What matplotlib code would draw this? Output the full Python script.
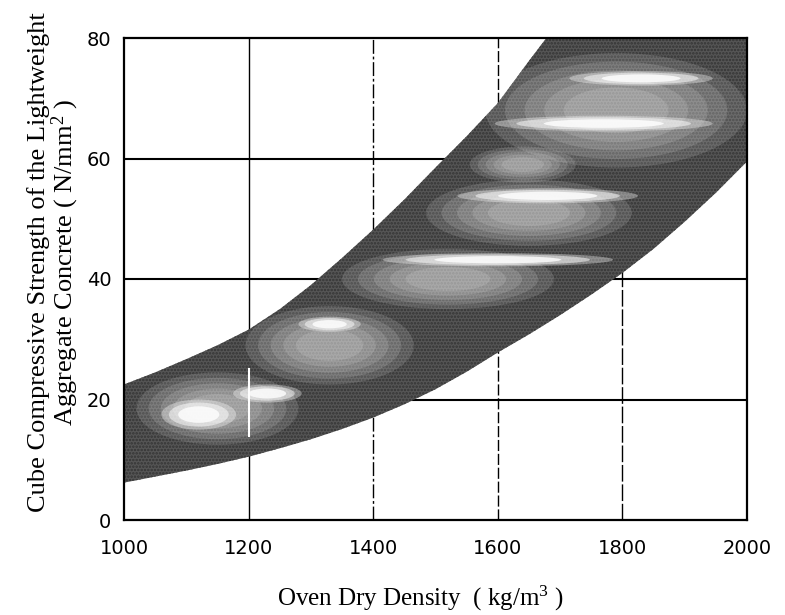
import matplotlib
matplotlib.use("Agg")
import matplotlib.pyplot as plt
from matplotlib.patches import Ellipse, Polygon

# Band limits (density kg/m3 -> strength N/mm2)
density = [1000, 1050, 1100, 1150, 1200, 1250, 1300, 1350, 1400, 1450, 1500,
           1550, 1600, 1650, 1700, 1750, 1800, 1850, 1900, 1950, 2000]
upper = [22.5, 24.5, 26.7, 29.0, 31.6, 35.0, 39.0, 43.5, 48.2, 53.2, 58.5,
         63.7, 69.2, 76.2, 83.0, 90.0, 97.0, 104.0, 111.0, 118.0, 125.0]
lower = [6.2, 7.2, 8.2, 9.3, 10.5, 11.9, 13.4, 15.1, 17.0, 19.2, 21.7,
         24.6, 27.8, 30.8, 34.0, 37.4, 41.0, 45.0, 49.5, 54.3, 59.5]

# Diffuse clouds of test results inside the band
cloud_x = [1150, 1330, 1520, 1650, 1640, 1790]
cloud_y = [18.5, 29.0, 40.0, 51.0, 59.0, 68.0]
cloud_w = [260, 270, 340, 330, 170, 420]
cloud_h = [12.0, 13.0, 10.0, 11.0, 6.0, 19.0]

# Dense streaks of results
streak_x = [1120, 1230, 1330, 1600, 1680, 1770, 1830]
streak_y = [17.5, 21.0, 32.5, 43.2, 53.8, 65.8, 73.3]
streak_w = [120, 110, 100, 370, 290, 350, 230]
streak_h = [5.0, 3.0, 2.5, 2.2, 2.5, 2.6, 2.4]

x_ticks = [1000, 1200, 1400, 1600, 1800, 2000]
y_ticks = [0, 20, 40, 60, 80]

plt.rcParams['hatch.linewidth'] = 1.2
plt.rcParams['mathtext.fontset'] = 'custom'
plt.rcParams['mathtext.rm'] = 'Liberation Serif'
plt.rcParams['mathtext.it'] = 'Liberation Serif:italic'
plt.rcParams['mathtext.bf'] = 'Liberation Serif:bold'

fig = plt.figure(figsize=(7.85, 6.15), dpi=100)
ax = fig.add_axes([124/785, 1-520/615, 623/785, 482/615])
ax.set_xlim(1000, 2000)
ax.set_ylim(0, 80)

# grid
for v in [20, 40, 60]:
    ax.axhline(v, color='black', lw=1.5, zorder=1)
for v, ls in zip([1200, 1400, 1600, 1800],
                 ['-', (0, (10, 2, 2, 2)), (0, (8, 2)), (0, (12, 2))]):
    ax.axvline(v, color='black', lw=1.0, ls=ls, zorder=1)

# the band
ax.fill_between(density, lower, upper, facecolor='#555555',
                edgecolor='#333333', hatch='.....', lw=0, zorder=2)
clip = Polygon(list(zip(density, upper)) + list(zip(density[::-1], lower[::-1])),
               closed=True, transform=ax.transData, visible=False)
ax.add_patch(clip)

for x, y, w, h in zip(cloud_x, cloud_y, cloud_w, cloud_h):
    for k in [1.0, 0.85, 0.7, 0.55, 0.4]:
        e = Ellipse((x, y), w*k, h*k, facecolor='white', alpha=0.13, lw=0, zorder=3)
        ax.add_patch(e)
        e.set_clip_path(clip)

for x, y, w, h in zip(streak_x, streak_y, streak_w, streak_h):
    for k, a in [(1.0, 0.35), (0.8, 0.5), (0.55, 0.8)]:
        e = Ellipse((x, y), w*k, h*k, facecolor='white', alpha=a, lw=0, zorder=4)
        ax.add_patch(e)
        e.set_clip_path(clip)

ax.plot([1200, 1200], [14, 25], color='white', lw=1.5, zorder=6)

for s in ax.spines.values():
    s.set_linewidth(1.6)
    s.set_zorder(7)

ax.set_xticks(x_ticks)
ax.set_yticks(y_ticks)
ax.tick_params(length=0, labelsize=14)
ax.tick_params(axis='x', pad=14)
ax.tick_params(axis='y', pad=9)

fig.text(420/785, 1-598/615, 'Oven Dry Density  ( kg/m$^3$ )',
         family='Liberation Serif', fontsize=18, ha='center', va='center')
fig.text(54/785, 1-262/615,
         'Cube Compressive Strength of the Lightweight\nAggregate Concrete ( N/mm$^2$ )',
         family='Liberation Serif', fontsize=19, ha='center', va='center',
         rotation=90, multialignment='center', linespacing=1.0)

fig.savefig('out.png', dpi=100)
